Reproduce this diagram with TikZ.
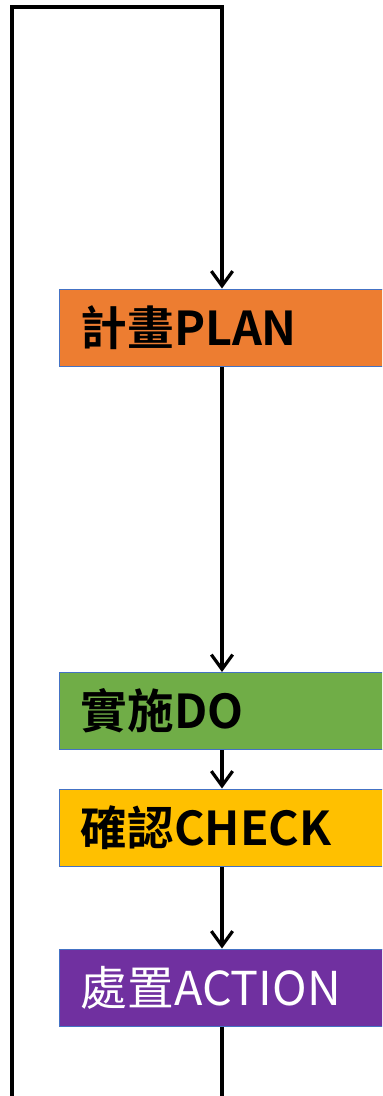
\documentclass[tikz,border=0pt]{standalone}
\usepackage{fontspec}
\usetikzlibrary{arrows.meta}
\newfontfamily\cjk[BoldFont={Noto Sans CJK TC Bold}]{Noto Sans CJK TC}

\definecolor{planorange}{RGB}{237,125,49}
\definecolor{dogreen}{RGB}{112,173,71}
\definecolor{checkyellow}{RGB}{255,192,0}
\definecolor{actionpurple}{RGB}{112,48,160}
\definecolor{boxblue}{RGB}{68,114,196}

\begin{document}
\begin{tikzpicture}[x=0.75pt,y=0.75pt,yscale=-1,xscale=1,
  stage/.style={draw=boxblue,line width=0.75pt,anchor=west,inner xsep=16pt,
    text width=223pt,align=left,minimum height=57.75pt,
    font=\cjk\bfseries\fontsize{35}{35}\selectfont},
  flow/.style={line width=2.6pt,-{Straight Barb[length=11pt,width=16pt,line width=2.4pt]}}]
\useasboundingbox (0,0) rectangle (382,1096);
\clip (0,0) rectangle (382,1096);

% stages
\node [stage,fill=planorange] (plan) at (59,327.5) {計畫PLAN};
\node [stage,fill=dogreen] (do) at (59,711) {實施DO};
\node [stage,fill=checkyellow] (check) at (59,827.5) {確認CHECK};
\node [stage,fill=actionpurple,text=white,font=\cjk\fontsize{35}{35}\selectfont] (action) at (59,987.5) {處置ACTION};

% loop corners
\coordinate (top) at (222,7);
\coordinate (topL) at (12,7);
\coordinate (bottomL) at (12,1110);
\coordinate (bottomR) at (222,1110);

% arrows
\draw [flow] (plan.south -| top) -- (do.north -| top);
\draw [flow] (do.south -| top) -- (check.north -| top);
\draw [flow] (check.south -| top) -- (action.north -| top);
\draw [flow,line join=miter] (action.south -| top) -- (bottomR) -- (bottomL) -- (topL) -- (top) -- (plan.north -| top);

\end{tikzpicture}
\end{document}
